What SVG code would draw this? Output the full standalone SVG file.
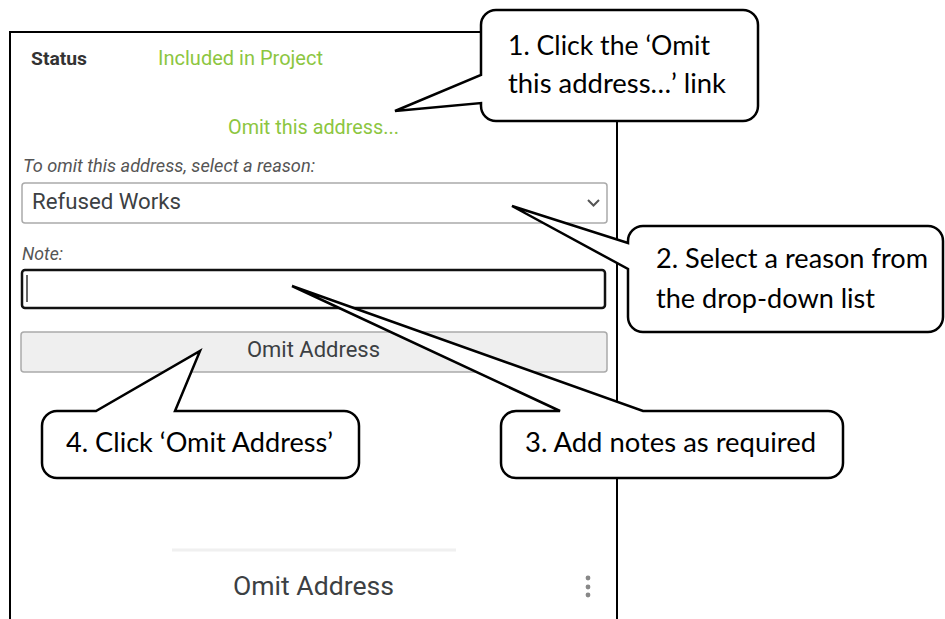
<svg xmlns="http://www.w3.org/2000/svg" width="945" height="619" viewBox="0 0 945 619">
  <style>
    .ui { font-family: Roboto, "Liberation Sans", sans-serif; }
    .green { fill: #8cc63f; }
    .dark { fill: #3c4043; }
    .lbl { fill: #555; font-style: italic; }
    .co { fill: #ffffff; stroke: #000000; stroke-width: 2.5; stroke-linejoin: miter; }
    .ct { font-family: Lato, "Open Sans", "Liberation Sans", sans-serif; font-size: 27px; fill: #000000; }
  </style>
  <rect width="945" height="619" fill="#ffffff"/>

  <g id="panel">
    <path d="M10,625 V32 H617 V625" fill="none" stroke="#000" stroke-width="2"/>
    <text class="ui" x="31" y="65" font-size="18" font-weight="bold" fill="#333" textLength="56" lengthAdjust="spacingAndGlyphs">Status</text>
    <text class="ui green" x="158" y="65" font-size="20" textLength="165" lengthAdjust="spacingAndGlyphs">Included in Project</text>
    <text class="ui green" x="228" y="134" font-size="20" textLength="171" lengthAdjust="spacingAndGlyphs">Omit this address...</text>
    <text class="ui lbl" x="23" y="172" font-size="18" textLength="292" lengthAdjust="spacingAndGlyphs">To omit this address, select a reason:</text>
  </g>

  <g id="reason-select">
    <rect x="22" y="183" width="585" height="40" rx="3" fill="#fff" stroke="#aaa" stroke-width="1.5"/>
    <text class="ui dark" x="32" y="209" font-size="22" textLength="149" lengthAdjust="spacingAndGlyphs">Refused Works</text>
    <path d="M588,200 L593.5,205.5 L599,200" fill="none" stroke="#555" stroke-width="2"/>
  </g>

  <g id="note-input">
    <text class="ui lbl" x="22" y="260" font-size="18" textLength="41" lengthAdjust="spacingAndGlyphs">Note:</text>
    <rect x="22" y="270" width="583" height="38" rx="3" fill="#fff" stroke="#111" stroke-width="2.5"/>
    <line x1="27" y1="275" x2="27" y2="302" stroke="#333" stroke-width="1.5"/>
  </g>

  <g id="omit-button">
    <rect x="21" y="332" width="586" height="40" rx="3" fill="#efefef" stroke="#aaa" stroke-width="1.5"/>
    <text class="ui dark" x="247" y="357" font-size="22" textLength="133" lengthAdjust="spacingAndGlyphs">Omit Address</text>
  </g>

  <g id="menu-item">
    <line x1="172" y1="550" x2="456" y2="550" stroke="#f0f0f0" stroke-width="3"/>
    <text class="ui dark" x="233" y="595" font-size="26" textLength="161" lengthAdjust="spacingAndGlyphs">Omit Address</text>
    <circle cx="588" cy="578" r="2.4" fill="#888"/>
    <circle cx="588" cy="587" r="2.4" fill="#888"/>
    <circle cx="588" cy="595" r="2.4" fill="#888"/>
  </g>

  <g id="callout-1">
    <path class="co" d="M496,10 H743 A15,15 0 0 1 758,25 V106 A15,15 0 0 1 743,121 H496 A15,15 0 0 1 481,106 V103 L395,111 L481,75 V25 A15,15 0 0 1 496,10 Z"/>
    <text class="ct" x="508" y="55" textLength="202" lengthAdjust="spacingAndGlyphs">1. Click the ‘Omit</text>
    <text class="ct" x="508" y="93" textLength="218" lengthAdjust="spacingAndGlyphs">this address…’ link</text>
  </g>

  <g id="callout-2">
    <path class="co" d="M643,226 H928 A15,15 0 0 1 943,241 V317 A15,15 0 0 1 928,332 H643 A15,15 0 0 1 628,317 V269 L512,206 L628,243 V241 A15,15 0 0 1 643,226 Z"/>
    <text class="ct" x="656" y="268" textLength="272" lengthAdjust="spacingAndGlyphs">2. Select a reason from</text>
    <text class="ct" x="656" y="308" textLength="219" lengthAdjust="spacingAndGlyphs">the drop-down list</text>
  </g>

  <g id="callout-3">
    <path class="co" d="M516,411 H560 L292,286 L643,411 H828 A15,15 0 0 1 843,426 V463 A15,15 0 0 1 828,478 H516 A15,15 0 0 1 501,463 V426 A15,15 0 0 1 516,411 Z"/>
    <text class="ct" x="525" y="452" textLength="291" lengthAdjust="spacingAndGlyphs">3. Add notes as required</text>
  </g>

  <g id="callout-4">
    <path class="co" d="M57,411 H96 L200,351 L175,411 H344 A15,15 0 0 1 359,426 V463 A15,15 0 0 1 344,478 H57 A15,15 0 0 1 42,463 V426 A15,15 0 0 1 57,411 Z"/>
    <text class="ct" x="66" y="452" textLength="267" lengthAdjust="spacingAndGlyphs">4. Click ‘Omit Address’</text>
  </g>
</svg>
